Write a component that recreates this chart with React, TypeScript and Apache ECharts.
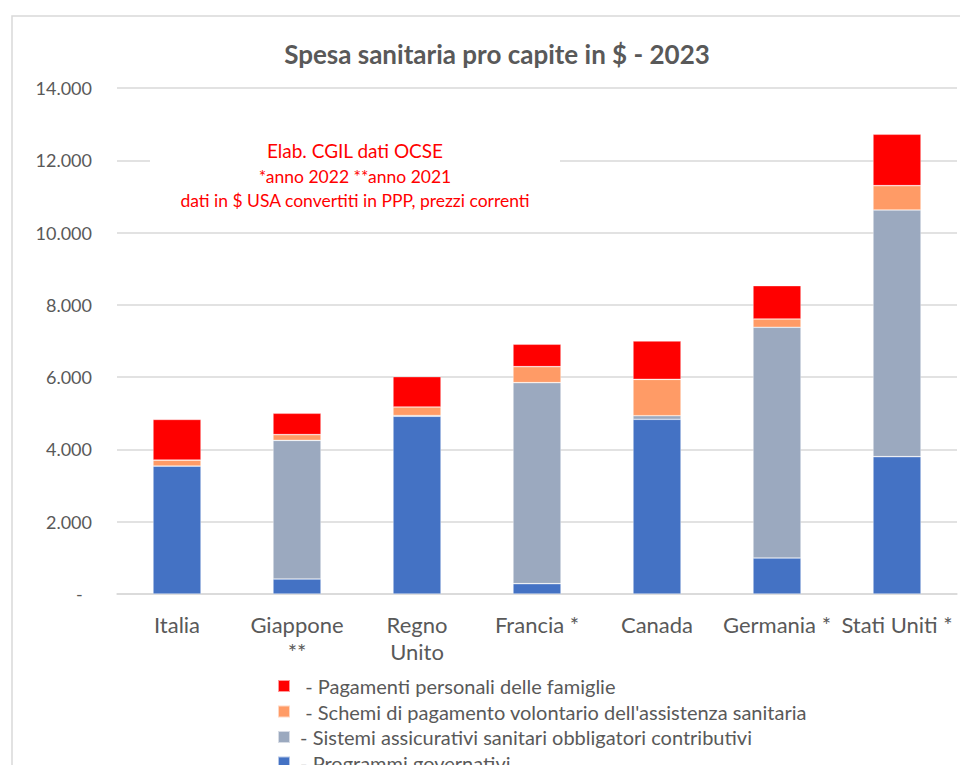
import React, { useEffect, useRef } from "react";
import * as echarts from "echarts";

const categories = ["Italia", "Giappone\n**", "Regno\nUnito", "Francia *", "Canada", "Germania *", "Stati Uniti *"];
const programmiGovernativi = [3540, 415, 4917, 286, 4833, 996, 3800];
const sistemiObbligatori = [0, 3835, 20, 5562, 100, 6383, 6825];
const schemiVolontari = [165, 160, 237, 442, 1006, 230, 673];
const pagamentiFamiglie = [1125, 590, 840, 620, 1060, 922, 1422];

const seriesNames = [
  " - Programmi governativi",
  " - Sistemi assicurativi sanitari obbligatori contributivi",
  "  - Schemi di pagamento volontario dell'assistenza sanitaria",
  "  - Pagamenti personali delle famiglie",
];
const seriesColors = ["#4472C4", "#9BA9BF", "#FF9B66", "#FF0000"];
const yMax = 14000;
const yInterval = 2000;

const FONT = "Lato, 'Open Sans', sans-serif";
const GREY = "#595959";

export default function App() {
  const ref = useRef<HTMLDivElement>(null);
  useEffect(() => {
    if (!ref.current) return;
    const chart = echarts.init(ref.current, undefined, { renderer: "svg" });
    const data = [programmiGovernativi, sistemiObbligatori, schemiVolontari, pagamentiFamiglie];
    chart.setOption({
      animation: false,
      backgroundColor: "#ffffff",
      textStyle: { fontFamily: FONT },
      title: {
        text: "Spesa sanitaria pro capite in $ - 2023",
        left: 492,
        textAlign: "center",
        top: 36,
        textStyle: { fontFamily: FONT, fontSize: 26, fontWeight: "bold", color: GREY },
      },
      grid: { left: 117, right: 3, top: 88, bottom: 171, containLabel: false },
      xAxis: {
        type: "category",
        data: categories,
        axisLine: { lineStyle: { color: "#d9d9d9", width: 1.5 } },
        axisTick: { show: false },
        axisLabel: { fontFamily: FONT, fontSize: 22, color: GREY, margin: 17, lineHeight: 27, interval: 0 },
      },
      yAxis: {
        type: "value",
        min: 0,
        max: yMax,
        interval: yInterval,
        axisLine: { show: false },
        axisTick: { show: false },
        splitLine: { lineStyle: { color: "#d9d9d9", width: 1.5 } },
        axisLabel: {
          fontFamily: FONT,
          fontSize: 18,
          color: GREY,
          margin: 25,
          formatter: (v: number) => (v === 0 ? "-  " : v.toLocaleString("it-IT", { minimumFractionDigits: 0 }).replace(/\s/g, ".")),
        },
      },
      legend: {
        orient: "vertical",
        left: 277,
        top: 676,
        height: 300,
        padding: 0,
        itemWidth: 12,
        itemHeight: 12,
        itemGap: 5.5,
        icon: "rect",
        data: [seriesNames[3], seriesNames[2], seriesNames[1], seriesNames[0]],
        textStyle: { fontFamily: FONT, fontSize: 20, color: GREY, lineHeight: 20 },
      },
      series: data.map((d, i) => ({
        name: seriesNames[i],
        type: "bar",
        stack: "tot",
        barWidth: 48,
        data: d,
        itemStyle: { color: seriesColors[i], borderColor: "rgba(255,255,255,0.6)", borderWidth: 0.6 },
      })),
      graphic: [
        {
          type: "rect",
          shape: { x: 12, y: 16, width: 1000, height: 800 },
          style: { fill: "none", stroke: "#d9d9d9", lineWidth: 1.5 },
          silent: true,
          z: -10,
        },
        {
          type: "rect",
          shape: { x: 150, y: 136, width: 410, height: 78 },
          style: { fill: "#ffffff" },
          z: 5,
        },
        {
          type: "text",
          x: 355,
          y: 150,
          z: 6,
          style: { text: "Elab. CGIL dati OCSE", fill: "#ff0000", font: `19px ${FONT}`, align: "center", verticalAlign: "middle" },
        },
        {
          type: "text",
          x: 355,
          y: 176,
          z: 6,
          style: { text: "*anno 2022 **anno 2021", fill: "#ff0000", font: `17.5px ${FONT}`, align: "center", verticalAlign: "middle" },
        },
        {
          type: "text",
          x: 355,
          y: 200,
          z: 6,
          style: { text: "dati in $ USA convertiti in PPP, prezzi correnti", fill: "#ff0000", font: `17.5px ${FONT}`, align: "center", verticalAlign: "middle" },
        },
      ],
    });
    return () => chart.dispose();
  }, []);
  return <div ref={ref} style={{ width: 960, height: 765, position: "absolute", left: 0, top: 0 }} />;
}
